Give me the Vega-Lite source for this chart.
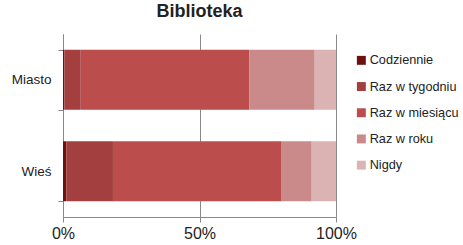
{
  "$schema": "https://vega.github.io/schema/vega-lite/v6.json",
  "width": 273,
  "height": 183,
  "autosize": {"type": "none"},
  "padding": {"left": 63, "top": 34, "right": 127, "bottom": 28},
  "background": "white",
  "title": {
    "text": "Biblioteka",
    "font": "Liberation Sans",
    "fontSize": 18,
    "fontWeight": "bold",
    "color": "#222222",
    "anchor": "middle",
    "offset": 6
  },
  "config": {
    "view": {"stroke": null},
    "font": "Liberation Sans"
  },
  "data": {
    "values": [
      {"miejsce": "Miasto", "czestosc": "Codziennie", "rank": 1, "procent": 0.5},
      {"miejsce": "Miasto", "czestosc": "Raz w tygodniu", "rank": 2, "procent": 6.0},
      {"miejsce": "Miasto", "czestosc": "Raz w miesiącu", "rank": 3, "procent": 61.7},
      {"miejsce": "Miasto", "czestosc": "Raz w roku", "rank": 4, "procent": 24.0},
      {"miejsce": "Miasto", "czestosc": "Nigdy", "rank": 5, "procent": 7.8},
      {"miejsce": "Wieś", "czestosc": "Codziennie", "rank": 1, "procent": 1.2},
      {"miejsce": "Wieś", "czestosc": "Raz w tygodniu", "rank": 2, "procent": 17.1},
      {"miejsce": "Wieś", "czestosc": "Raz w miesiącu", "rank": 3, "procent": 61.8},
      {"miejsce": "Wieś", "czestosc": "Raz w roku", "rank": 4, "procent": 11.0},
      {"miejsce": "Wieś", "czestosc": "Nigdy", "rank": 5, "procent": 8.9}
    ]
  },
  "mark": {"type": "bar"},
  "encoding": {
    "y": {
      "field": "miejsce",
      "type": "nominal",
      "sort": ["Miasto", "Wieś"],
      "scale": {"paddingInner": 0.345, "paddingOuter": 0.1725},
      "axis": {
        "title": null,
        "tickBand": "extent",
        "domainColor": "#888888",
        "tickColor": "#888888",
        "tickSize": 5,
        "labelPadding": 7,
        "labelFontSize": 13.5,
        "labelColor": "#222222",
        "labelFont": "Liberation Sans",
        "grid": false
      }
    },
    "x": {
      "field": "procent",
      "type": "quantitative",
      "stack": "normalize",
      "scale": {"domain": [0, 1], "nice": false},
      "axis": {
        "title": null,
        "values": [0, 0.5, 1],
        "format": ".0%",
        "grid": true,
        "gridColor": "#8a8a8a",
        "gridWidth": 1,
        "domainColor": "#8a8a8a",
        "ticks": true,
        "tickColor": "#8a8a8a",
        "tickSize": 5,
        "labelFontSize": 16,
        "labelColor": "#222222",
        "labelFont": "Liberation Sans",
        "labelPadding": 3,
        "labelFlush": false,
        "labelBound": false,
        "labelOverlap": false
      }
    },
    "color": {
      "field": "czestosc",
      "type": "nominal",
      "sort": ["Codziennie", "Raz w tygodniu", "Raz w miesiącu", "Raz w roku", "Nigdy"],
      "scale": {
        "domain": ["Codziennie", "Raz w tygodniu", "Raz w miesiącu", "Raz w roku", "Nigdy"],
        "range": ["#6e1010", "#a33f3e", "#bb4e4c", "#c98a89", "#dbb3b3"]
      },
      "legend": {
        "title": null,
        "orient": "none",
        "legendX": 292,
        "legendY": 20,
        "symbolType": "square",
        "symbolSize": 80,
        "symbolStrokeWidth": 0,
        "symbolOpacity": 1,
        "labelFontSize": 12.7,
        "labelColor": "#222222",
        "labelFont": "Liberation Sans",
        "labelOffset": 2,
        "rowPadding": 12.2
      }
    },
    "order": {"field": "rank", "type": "quantitative"}
  }
}
